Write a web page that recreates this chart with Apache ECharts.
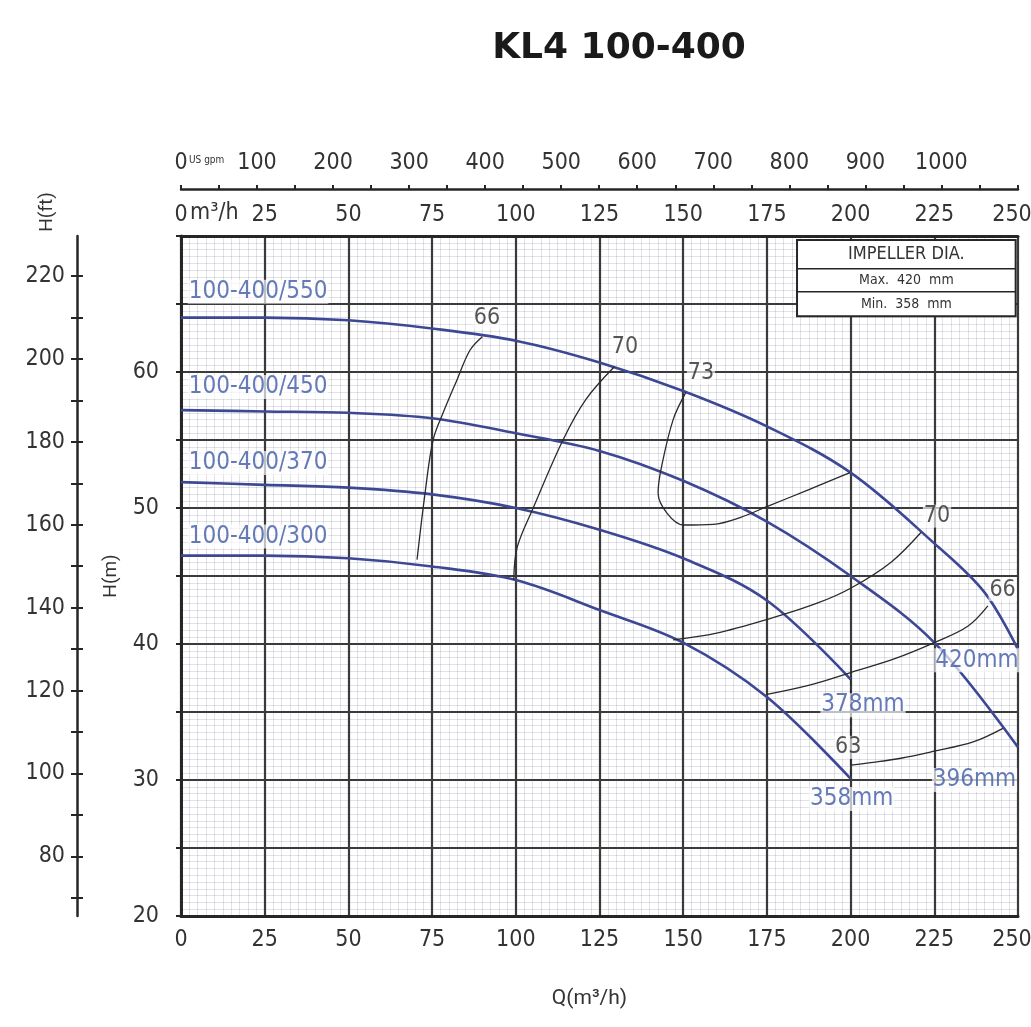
<!DOCTYPE html>
<html>
<head>
<meta charset="utf-8">
<script src="https://cdn.jsdelivr.net/npm/echarts@6/dist/echarts.min.js"></script>
<style>
  html,body{margin:0;padding:0;background:#fff;}
  #main{width:1031px;height:1027px;}
</style>
</head>
<body>
<div id="main"></div>
<script>
// ---------- data ----------
const title = 'KL4 100-400';
const qTicks = [0, 25, 50, 75, 100, 125, 150, 175, 200, 225, 250];
const hLabels = [20, 30, 40, 50, 60];
const gpmLabels = [0, 100, 200, 300, 400, 500, 600, 700, 800, 900, 1000];
const ftLabels = [80, 100, 120, 140, 160, 180, 200, 220];
const ftTicks = [70, 80, 90, 100, 110, 120, 130, 140, 150, 160, 170, 180, 190, 200, 210, 220];

// head curves [Q m3/h, H m]
const curve420 = [[0,64.0],[25,64.0],[50,63.8],[75,63.2],[100,62.3],[125,60.7],[150,58.6],[175,56.0],[200,52.6],[225,47.4],[240,43.8],[250,39.6]];
const curve396 = [[0,57.2],[25,57.1],[50,57.0],[75,56.6],[100,55.5],[125,54.2],[150,52.0],[175,49.0],[200,45.0],[225,40.1],[250,32.4]];
const curve378 = [[0,51.9],[25,51.7],[50,51.5],[75,51.0],[100,50.0],[125,48.4],[150,46.3],[175,43.2],[200,37.4]];
const curve358 = [[0,46.5],[25,46.5],[50,46.3],[75,45.7],[100,44.7],[125,42.5],[150,40.1],[175,36.1],[200,30.1]];

// efficiency lines
const eff66a = [[70.5,46.2],[72.9,51.1],[75.3,55.0],[78.3,57.0],[82.4,59.4],[86.3,61.6],[90.0,62.6]];
const eff70a = [[99.4,44.7],[100.4,47.1],[105.2,50.0],[114.1,55.0],[121,58.0],[129.5,60.4]];
const eff73 = [[150.8,58.5],[147,56.5],[143.5,53.0],[142.5,51.1],[145.2,49.6],[150,48.75],[159,48.8],[167,49.3],[175,50.1],[187,51.3],[199.8,52.6]];
const eff70b = [[147,40.3],[160,40.8],[175,41.8],[190,43.0],[200,44.1],[212,46.0],[221,48.2]];
const eff66b = [[175,36.3],[188,37.0],[200,37.9],[213,38.9],[225,40.1],[235,41.3],[241,42.8]];
const eff63 = [[200,31.1],[206.7,31.3],[215,31.6],[224.6,32.1],[236.6,32.8],[245.5,33.8]];
const maxFlowLine = [[200,37.4],[200,30.1]];

// label positions [Q, H, text]
const curveNames = [[2,65.9,'100-400/550'],[2,58.9,'100-400/450'],[2,53.3,'100-400/370'],[2,47.9,'100-400/300']];
const diaNames = [[237.7,38.8,'420mm'],[237,30.0,'396mm'],[203.7,35.5,'378mm'],[200.3,28.6,'358mm']];
const effNames = [[91.4,64.0,'66'],[132.6,61.8,'70'],[155.3,59.9,'73'],[225.8,49.4,'70'],[245.4,44.0,'66'],[199.3,32.4,'63']];
const tableRows = ['IMPELLER DIA.', 'Max.  420  mm', 'Min.  358  mm'];

// ---------- chart ----------
const FONT = "'Liberation Sans Narrow','DejaVu Sans Condensed','Roboto Condensed',sans-serif";
const M2FT = 3.28084, M3H2GPM = 4.40287;
const blue = '#3d4894', blueText = '#3e5aa6', ink = '#262626', major = '#3a3a3a', minor = 'rgba(90,90,130,0.18)';
const LBL = 23;

const chart = echarts.init(document.getElementById('main'), null, {renderer:'canvas'});

function lineSeries(name, data, color, width, type) {
  return {name, type:'line', data, smooth:0.35, showSymbol:false, symbol:'none', silent:true,
    lineStyle:{color, width, type:type||'solid'}, z:5, xAxisIndex:0, yAxisIndex:0, animation:false};
}
function textSeries(name, data, color, size, align, bg) {
  return {name, type:'scatter', symbolSize:0, silent:true, animation:false, z:8,
    xAxisIndex:0, yAxisIndex:0,
    data: data.map(d => ({value:[d[0], d[1]], label:{formatter:d[2]}})),
    label:{show:true, position:'inside', align:align, verticalAlign:'middle', color, fontSize:size,
      fontFamily:FONT, backgroundColor:bg||'transparent', padding:[0,1]}};
}
const qFmt = v => qTicks.includes(v) ? (v === qTicks[qTicks.length-1] ? '{e|' + v + '}' : String(v)) : '';
const qRich = {e:{padding:[0,12,0,0], fontSize:LBL, fontFamily:FONT, color:'#333'}};

const option = {
  backgroundColor:'#ffffff',
  animation:false,
  title:{text:title, left:614, top:26, textAlign:'center',
    textStyle:{fontFamily:"'DejaVu Sans',sans-serif", fontWeight:'bold', fontSize:36, color:'#1a1a1a'}},
  grid:{left:181, top:236, width:837, height:680, outerBoundsMode:'none', containLabel:false},
  xAxis:[
    {type:'value', position:'bottom', min:0, max:250, interval:25,
      axisLine:{show:true, onZero:false, lineStyle:{color:ink, width:3}},
      axisTick:{show:false},
      axisLabel:{margin:13, fontSize:LBL, fontFamily:FONT, color:'#333', formatter:qFmt, rich:qRich},
      splitLine:{show:true, lineStyle:{color:major, width:2.2}},
      minorTick:{show:false, splitNumber:10},
      minorSplitLine:{show:true, lineStyle:{color:minor, width:1}},
      name:'Q(m³/h)', nameLocation:'middle', nameGap:72,
      nameTextStyle:{fontSize:21, color:'#333', fontFamily:"Roboto,sans-serif", padding:[0,20,0,0]}},
    {type:'value', position:'top', min:0, max:250, interval:25,
      axisLine:{show:true, onZero:false, lineStyle:{color:ink, width:3}},
      axisTick:{show:false},
      axisLabel:{margin:9, fontSize:LBL, fontFamily:FONT, color:'#333', formatter:qFmt, rich:qRich},
      splitLine:{show:false}},
    {type:'value', position:'top', offset:47, min:0, max:250*M3H2GPM, interval:50,
      axisLine:{show:true, onZero:false, lineStyle:{color:ink, width:2.5}},
      axisTick:{show:true, length:4, lineStyle:{color:ink, width:2}},
      axisLabel:{margin:14, fontSize:LBL, fontFamily:FONT, color:'#333',
        formatter:v => gpmLabels.includes(v) ? String(v) : ''},
      splitLine:{show:false}}
  ],
  yAxis:[
    {type:'value', min:20, max:70, interval:5,
      axisLine:{show:true, onZero:false, lineStyle:{color:ink, width:3}},
      axisTick:{show:true, length:5, lineStyle:{color:ink, width:2}},
      axisLabel:{margin:22, fontSize:LBL, fontFamily:FONT, color:'#333', formatter:v => hLabels.includes(v) ? String(v) : ''},
      splitLine:{show:true, lineStyle:{color:major, width:2.2}},
      minorTick:{show:false, splitNumber:10},
      minorSplitLine:{show:true, lineStyle:{color:minor, width:1}},
      name:'H(m)', nameLocation:'middle', nameGap:60, nameRotate:90,
      nameTextStyle:{fontSize:19, color:'#333', fontFamily:"Roboto,sans-serif"}},
    {type:'value', position:'left', offset:104, min:20*M2FT, max:70*M2FT,
      axisLine:{show:true, onZero:false, lineStyle:{color:ink, width:2.5}},
      axisTick:{show:true, length:6, customValues:ftTicks, lineStyle:{color:ink, width:2}},
      axisLabel:{show:true, margin:12, fontSize:LBL, fontFamily:FONT, color:'#333', customValues:ftLabels},
      splitLine:{show:false}},
    {type:'value', position:'left', offset:104, min:20*M2FT, max:70*M2FT,
      axisLine:{show:false, onZero:false},
      axisTick:{show:true, inside:true, length:6, customValues:ftTicks, lineStyle:{color:ink, width:2}},
      axisLabel:{show:false, customValues:ftLabels},
      splitLine:{show:false}}
  ],
  series:[
    lineSeries('420', curve420, blue, 2.6),
    lineSeries('396', curve396, blue, 2.6),
    lineSeries('378', curve378, blue, 2.6),
    lineSeries('358', curve358, blue, 2.6),
    lineSeries('66a', eff66a, '#2a2a2a', 1.3),
    lineSeries('70a', eff70a, '#2a2a2a', 1.3),
    lineSeries('73', eff73, '#2a2a2a', 1.3),
    lineSeries('70b', eff70b, '#2a2a2a', 1.3),
    lineSeries('66b', eff66b, '#2a2a2a', 1.3),
    lineSeries('63', eff63, '#2a2a2a', 1.3),
    lineSeries('maxflow', maxFlowLine, '#2a2a2a', 1.3, [6,4]),
    textSeries('curveNames', curveNames, blueText, 24, 'left', 'rgba(255,255,255,0.85)'),
    textSeries('diaNames', diaNames, blueText, 24, 'center', 'rgba(255,255,255,0.85)'),
    textSeries('effNames', effNames, '#2a2a2a', 23, 'center', 'rgba(255,255,255,0.8)')
  ]
};
chart.setOption(option);

// annotations placed from the axes' own scales
const px = (q, h) => chart.convertToPixel({xAxisIndex:0, yAxisIndex:0}, [q, h]);
const p0 = px(0, 70);
const gpm0 = chart.convertToPixel({xAxisIndex:2}, 0);
const boxL = px(184, 69.7), boxR = px(249.3, 64.1);
const rowY1 = px(0, 67.6)[1], rowY2 = px(0, 65.9)[1];
const bw = boxR[0] - boxL[0], bh = boxR[1] - boxL[1];
chart.setOption({graphic:[
  {type:'text', left:gpm0 + 8, top:155, style:{text:'US gpm', fontSize:10, fontFamily:FONT, fill:'#333'}},
  {type:'text', left:p0[0] + 9, top:202, style:{text:'m³/h', fontSize:LBL, fontFamily:FONT, fill:'#333'}},
  {type:'text', x:47, y:212, rotation:Math.PI/2, style:{text:'H(ft)', fontSize:19, fontFamily:"Roboto,sans-serif", fill:'#333', align:'center', verticalAlign:'middle'}},
  {type:'group', x:boxL[0], y:boxL[1], z:20, children:[
    {type:'rect', shape:{x:0, y:0, width:bw, height:bh}, style:{fill:'#fff', stroke:ink, lineWidth:2}},
    {type:'line', shape:{x1:0, y1:rowY1-boxL[1], x2:bw, y2:rowY1-boxL[1]}, style:{stroke:ink, lineWidth:1.5}},
    {type:'line', shape:{x1:0, y1:rowY2-boxL[1], x2:bw, y2:rowY2-boxL[1]}, style:{stroke:ink, lineWidth:1.5}},
    {type:'text', x:bw/2, y:(rowY1-boxL[1])/2, style:{text:tableRows[0], fontSize:18, fontFamily:FONT, fill:'#333', align:'center', verticalAlign:'middle'}},
    {type:'text', x:bw/2, y:(rowY1+rowY2)/2-boxL[1], style:{text:tableRows[1], fontSize:14, fontFamily:FONT, fill:'#333', align:'center', verticalAlign:'middle'}},
    {type:'text', x:bw/2, y:(rowY2-boxL[1]+bh)/2, style:{text:tableRows[2], fontSize:14, fontFamily:FONT, fill:'#333', align:'center', verticalAlign:'middle'}}
  ]}
]});
</script>
</body>
</html>
